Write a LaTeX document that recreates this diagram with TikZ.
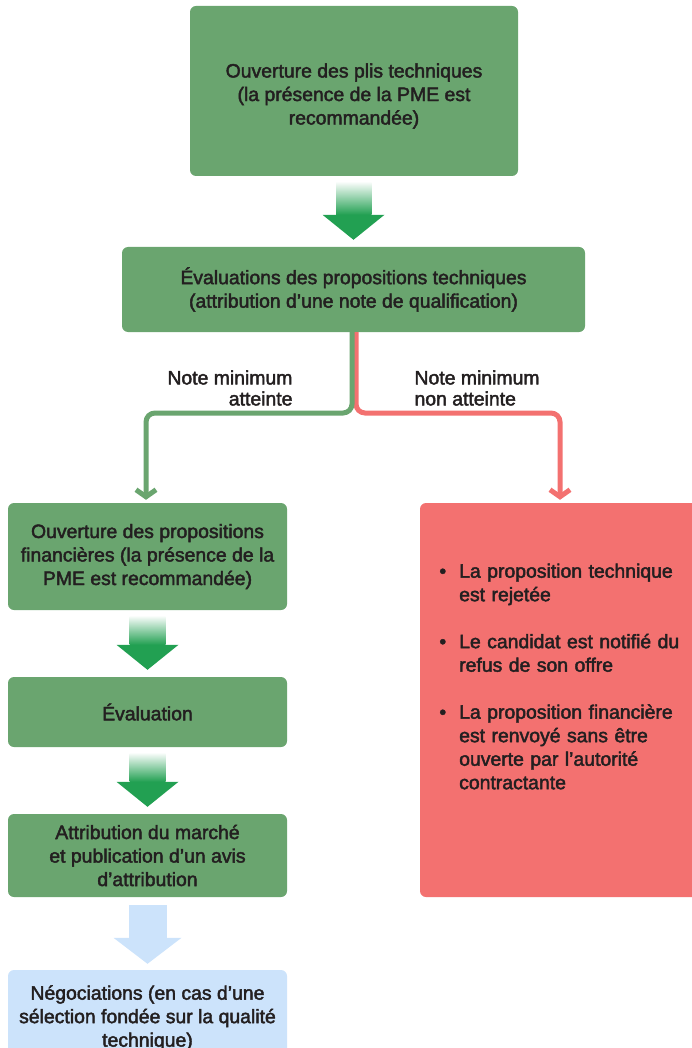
\documentclass[tikz,border=0pt]{standalone}
\usepackage{fontspec}
\setmainfont{Liberation Sans}[FakeBold=2.2]
\usepackage{enumitem}
\usepackage{tikz}
\usetikzlibrary{positioning, calc, arrows.meta}
\definecolor{boxgreen}{HTML}{6AA56F}
\definecolor{arrowgreen}{HTML}{22A052}
\definecolor{rejectred}{HTML}{F37170}
\definecolor{negoblue}{HTML}{CCE3FB}
\definecolor{inkgray}{HTML}{231F20}

\begin{document}
\begin{tikzpicture}[x=1pt,y=-1pt,
  font=\fontsize{19.4}{23.5}\selectfont, text=inkgray,
  stepbox/.style={fill=boxgreen, rounded corners=6pt, align=center, inner sep=0pt},
  branch/.style={line width=5pt, rounded corners=9pt, shorten >=3pt,
    -{Straight Barb[length=7pt,width=20pt]}},
  note/.style={font=\fontsize{19.4}{21}\selectfont}]

\useasboundingbox (0,0) rectangle (691,1048);

% Etapes
\node[stepbox, minimum width=328pt, minimum height=170pt] (plis) at (354,91) {};
\node[align=center, inner sep=0pt] (plistext) at (354,96)
  {Ouverture des plis techniques\\(la présence de la PME est\\recommandée)};
\node[stepbox, minimum width=463pt, minimum height=85pt] (evaltech) at (353.5,289.5)
  {Évaluations des propositions techniques\\(attribution d’une note de qualification)};
\node[stepbox, minimum width=279pt, minimum height=107pt] (ouvfin) at (147.5,556.5)
  {Ouverture des propositions\\financières (la présence de la\\PME est recommandée)};
\node[stepbox, minimum width=279pt, minimum height=70pt] (evalfin) at (147.5,712)
  {Évaluation};
\node[stepbox, minimum width=279pt, minimum height=83pt] (attrib) at (147.5,855.5)
  {Attribution du marché\\et publication d’un avis\\d’attribution};
\node[stepbox, fill=negoblue, minimum width=279pt, minimum height=96pt] (nego) at (147.5,1018)
  {Négociations (en cas d’une\\sélection fondée sur la qualité\\technique)};

% Rejet
\node[fill=rejectred, rounded corners=6pt, minimum width=280pt, minimum height=394pt,
  inner sep=0pt] (rejet) at (560,700) {};
\node[anchor=north west, text width=262pt, inner sep=0pt] (rejetlist) at (433,554)
  {\begin{itemize}[leftmargin=26pt, labelsep=13pt, itemsep=23.5pt, topsep=0pt,
     parsep=0pt, label=\textbullet]
   \item La proposition technique\\est rejetée
   \item Le candidat est notifié du\\refus de son offre
   \item La proposition financière\\est renvoyé sans être\\ouverte par l’autorité\\contractante
   \end{itemize}};

% Fleches pleines
\foreach \from/\to in {plis/evaltech, ouvfin/evalfin, evalfin/attrib}{
  \path (\from.south) ++(0,6) coordinate (top);
  \path (\to.north) ++(0,-7) coordinate (tip);
  \shade[top color=arrowgreen!3, bottom color=arrowgreen]
    ($(top)+(-18,0)$) rectangle ($(tip)+(18,-25)$);
  \fill[arrowgreen] ($(tip)+(-31,-25)$) -- ($(tip)+(31,-25)$) -- (tip) -- cycle;
}
\path (attrib.south) ++(0,8) coordinate (top);
\path (nego.north) ++(0,-6) coordinate (tip);
\fill[negoblue] ($(top)+(-19,0)$) rectangle ($(tip)+(19,-26)$);
\fill[negoblue] ($(tip)+(-34,-26)$) -- ($(tip)+(34,-26)$) -- (tip) -- cycle;

% Branches
\coordinate (split) at (0,413);
\draw[branch, rejectred] ([xshift=2.5pt]evaltech.south) -- ([xshift=2.5pt]evaltech.south |- split)
  -| (rejet.north);
\draw[branch, boxgreen] ([xshift=-1.5pt]evaltech.south) -- ([xshift=-1.5pt]evaltech.south |- split)
  -| ([xshift=-1.5pt]ouvfin.north);

% Etiquettes
\node[note, anchor=east, align=right] (okLabel) at (296,388) {Note minimum\\atteinte};
\node[note, anchor=west, align=left] (koLabel) at (411,388) {Note minimum\\non atteinte};

\end{tikzpicture}
\end{document}
